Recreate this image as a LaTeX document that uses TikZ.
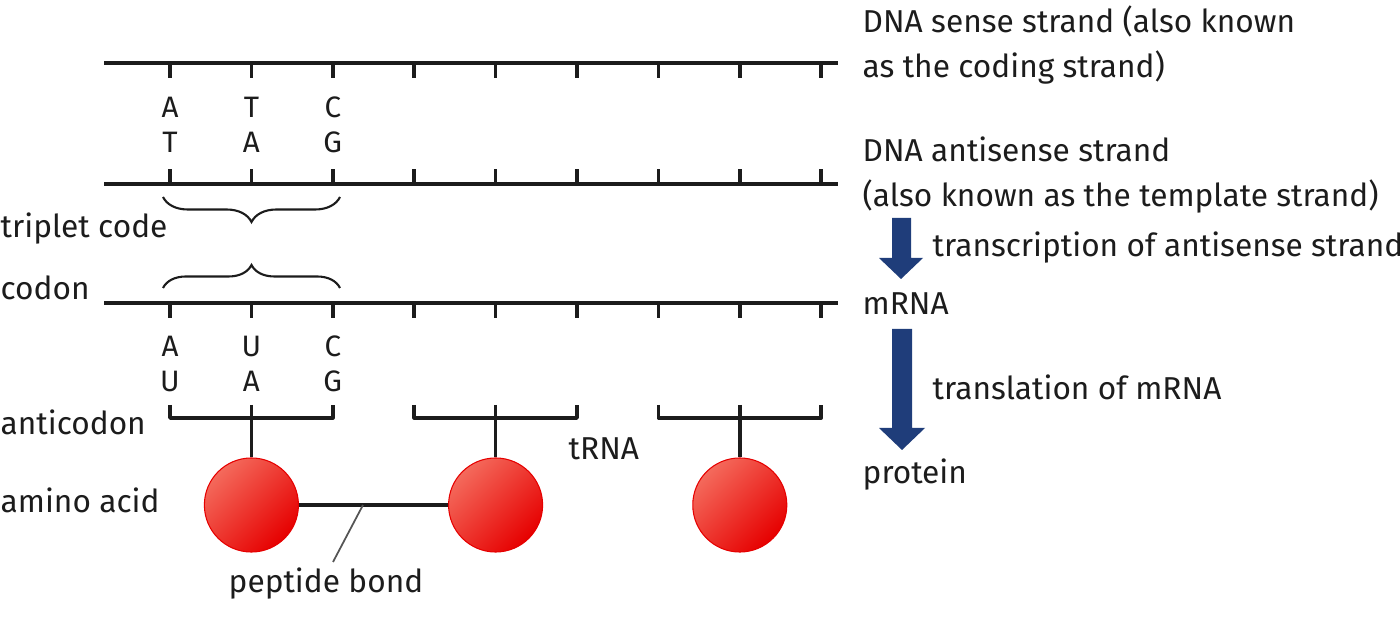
\documentclass[tikz,border=0pt]{standalone}
\usepackage{fontspec}
\setmainfont{Fira Sans}
\usetikzlibrary{calc,positioning,decorations.pathreplacing}
\definecolor{ink}{HTML}{1C1C1C}
\definecolor{navy}{HTML}{1F3D7A}
\definecolor{beadlight}{HTML}{F46A5C}
\definecolor{beaddark}{HTML}{E60000}
\definecolor{leader}{HTML}{555555}
\tikzset{
  strand/.style={draw=ink, line width=1pt},
  brk/.style={draw=ink, line width=1pt, line join=round},
  brc/.style={draw=ink, line width=0.6pt, decorate, decoration={brace, amplitude=#1}},
  lab/.style={text=ink, font=\fontsize{9}{11}\selectfont, inner sep=0pt, anchor=base west},
  nuc/.style={text=ink, font=\fontsize{8.4}{10}\selectfont, inner sep=0pt, anchor=base},
  amino/.style={circle, minimum size=0.94cm, inner sep=0pt, draw=beaddark, line width=0.3pt,
    shading=axis, top color=beadlight, bottom color=beaddark, shading angle=45},
  bigarrow/.style={fill=navy, draw=none},
}
\begin{document}
\begin{tikzpicture}[x=0.01cm, y=-0.01cm]
  \useasboundingbox (0,0) rectangle (1400,619);
  % strand ends
  \coordinate (S0) at (104,63);  \coordinate (S1) at (838,63);
  \coordinate (T0) at (104,184); \coordinate (T1) at (838,184);
  \coordinate (M0) at (104,303); \coordinate (M1) at (838,303);
  \draw[strand] (S0) -- (S1);
  \draw[strand] (T0) -- (T1);
  \draw[strand] (M0) -- (M1);
  % ticks on the three strands
  \foreach \i in {0,...,8}{
    \pgfmathsetmacro{\xx}{170+81.4*\i}
    \draw[strand] (\xx,63) -- (\xx,78);
    \draw[strand] (\xx,184) -- (\xx,169);
    \draw[strand] (\xx,303) -- (\xx,318);
  }
  % bases of the first triplet
  \foreach \a/\b/\c/\d [count=\i from 0] in {A/T/A/U, T/A/U/A, C/G/C/G}{
    \pgfmathsetmacro{\xx}{170+81.4*\i}
    \node[nuc] (sense\i) at (\xx,118) {\a};
    \node[nuc] (anti\i)  at (\xx,153) {\b};
    \node[nuc] (codon\i) at (\xx,357) {\c};
    \node[nuc] (acod\i)  at (\xx,392) {\d};
  }
  % braces
  \draw[brc=0.25cm] (340,197) -- (163,197);
  \draw[brc=0.23cm] (163,288) -- (340,288);
  % tRNA anticodon arms and amino acids
  \foreach \k in {0,1,2}{
    \pgfmathsetmacro{\xa}{170+81.4*(3*\k)}
    \pgfmathsetmacro{\xb}{170+81.4*(3*\k+1)}
    \pgfmathsetmacro{\xc}{170+81.4*(3*\k+2)}
    \draw[brk] (\xa,405) -- (\xa,418) -- (\xc,418) -- (\xc,405);
    \node[amino] (aa\k) at (\xb,505) {};
    \draw[brk] (\xb,405) -- (aa\k.north);
  }
  \draw[brk] (aa0) -- (aa1);
  \coordinate (bond) at (363,505);
  \node[lab] (pep) at (228,593) {peptide bond};
  \coordinate (bondend) at (333,562);
  \draw[leader, line width=0.5pt] (bond) -- (bondend);
  \node[lab] (trna) at (568,460) {tRNA};
  % labels on the left
  \node[lab] (triplet) at (0,238) {triplet code};
  \node[lab] (codon)   at (0,300) {codon};
  \node[lab] (anticod) at (0,435) {anticodon};
  \node[lab] (amacid)  at (0,513) {amino acid};
  % labels on the right
  \node[lab] (sensea) at (862,33)  {DNA sense strand (also known};
  \node[lab] (senseb) at (862,78)  {as the coding strand)};
  \node[lab] (antia)  at (862,162) {DNA antisense strand};
  \node[lab] (antib)  at (862,207) {(also known as the template strand)};
  \node[lab] (transc) at (932,257) {transcription of antisense strand};
  \node[lab] (mrna)   at (862,315) {mRNA};
  \node[lab] (transl) at (932,400) {translation of mRNA};
  \node[lab] (prot)   at (862,484) {protein};
  % block arrows
  \fill[bigarrow] (892,218) -- (911,218) -- (911,258) -- (923,258) -- (901,279)
    -- (879,258) -- (892,258) -- cycle;
  \fill[bigarrow] (892,329) -- (912,329) -- (912,428) -- (925,428) -- (902,450)
    -- (879,428) -- (892,428) -- cycle;
\end{tikzpicture}
\end{document}
